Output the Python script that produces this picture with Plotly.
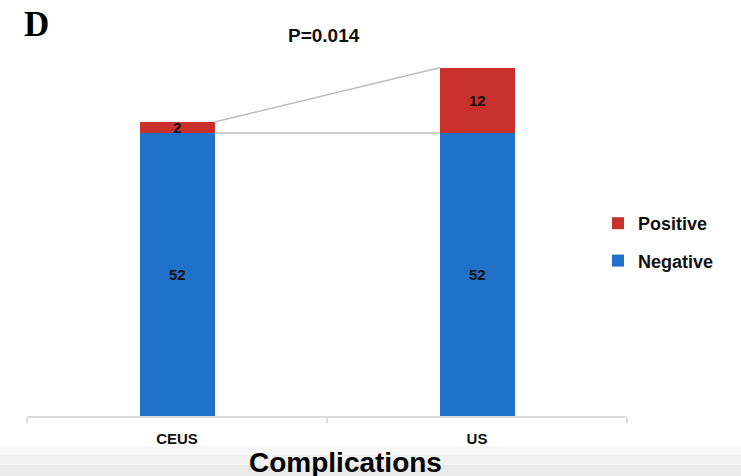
import plotly.graph_objects as go

categories = ["CEUS", "US"]
negative = [52, 52]
positive = [2, 12]
p_text = "P=0.014"
panel_label = "D"
x_title = "Complications"

W, H = 741, 476
L, R, T, B = 27, 114, 35, 60
YMAX = 70
pw, ph = W - L - R, H - T - B


def px_x(x):
    return (x - L) / pw


def px_y(y):
    return (H - B - y) / ph


xs = list(range(len(categories)))
BW = 0.25
BLUE = "#2072C8"
RED = "#C9302C"

fig = go.Figure()
fig.add_trace(go.Bar(x=xs, y=negative, name="<b>Negative</b>", marker=dict(color=BLUE, line=dict(width=0)),
                     width=BW, legendrank=2, legendgroup="n", hoverinfo="skip"))
fig.add_trace(go.Bar(x=xs, y=positive, name="<b>Positive</b>", marker=dict(color=RED, line=dict(width=0)),
                     width=BW, legendrank=1, legendgroup="p", hoverinfo="skip"))

# connector lines between bars
tops = [n + p for n, p in zip(negative, positive)]
fig.add_trace(go.Scatter(x=[xs[0] + BW / 2, xs[1] - BW / 2], y=tops, mode="lines",
                         line=dict(color="#bdbdbd", width=1.5), showlegend=False, hoverinfo="skip"))
fig.add_trace(go.Scatter(x=[xs[0] + BW / 2, xs[1] - BW / 2], y=negative[:2], mode="lines",
                         line=dict(color="#bdbdbd", width=1.5), showlegend=False, hoverinfo="skip"))

annotations = []
lab_font = dict(family="Liberation Sans, Arial", size=15, color="#111111")
for i, (n, p) in enumerate(zip(negative, positive)):
    annotations.append(dict(x=xs[i], y=n / 2, text=f"<b>{n}</b>", showarrow=False, font=lab_font))
    annotations.append(dict(x=xs[i], y=n + p / 2, text=f"<b>{p}</b>", showarrow=False, font=lab_font))

annotations.append(dict(xref="paper", yref="paper", x=px_x(22), y=px_y(25), xanchor="left", yanchor="middle",
                        text=f"<b>{panel_label}</b>", showarrow=False,
                        font=dict(family="Liberation Serif, Times New Roman", size=35, color="#000000")))
annotations.append(dict(xref="paper", yref="paper", x=px_x(324), y=px_y(36), xanchor="center", yanchor="middle",
                        text=f"<b>{p_text}</b>", showarrow=False,
                        font=dict(family="Liberation Sans, Arial", size=19, color="#111111")))
annotations.append(dict(xref="paper", yref="paper", x=px_x(345), y=px_y(445), xanchor="center", yanchor="top",
                        text=f"<b>{x_title}</b>", showarrow=False,
                        font=dict(family="Liberation Sans, Arial", size=28, color="#000000")))

shapes = [
    dict(type="rect", xref="paper", yref="paper", x0=px_x(0), x1=px_x(W), y0=px_y(H), y1=px_y(446),
         fillcolor="#f7f7f7", line=dict(width=0), layer="below"),
    dict(type="rect", xref="paper", yref="paper", x0=px_x(0), x1=px_x(W), y0=px_y(H), y1=px_y(455),
         fillcolor="#f1f1f1", line=dict(width=0), layer="below"),
    dict(type="rect", xref="paper", yref="paper", x0=px_x(0), x1=px_x(W), y0=px_y(H), y1=px_y(465),
         fillcolor="#eaeaea", line=dict(width=0), layer="below"),
]

fig.update_layout(
    width=W, height=H,
    margin=dict(l=L, r=R, t=T, b=B, pad=0),
    barmode="stack",
    plot_bgcolor="white", paper_bgcolor="white",
    showlegend=True,
    legend=dict(x=px_x(598), y=px_y(205), xanchor="left", yanchor="top",
                font=dict(family="Liberation Sans, Arial", size=18, color="#111111"),
                tracegroupgap=11, bgcolor="rgba(0,0,0,0)"),
    xaxis=dict(range=[-0.5, 1.5], tickvals=xs, ticktext=[f"<b>{c}</b>" for c in categories],
               showgrid=False, zeroline=False, showline=True, linecolor="#dcdcdc", linewidth=1.5,
               ticks="", tickfont=dict(family="Liberation Sans, Arial", size=15, color="#111111"),
               minor=dict(tickvals=[-0.5, 0.5, 1.5], ticks="outside", ticklen=5, tickcolor="#dcdcdc",
                          tickwidth=1.5, showgrid=False),
               ticklabelstandoff=8),
    yaxis=dict(range=[0, YMAX], visible=False, showgrid=False),
    annotations=annotations,
    shapes=shapes,
)

fig.write_html("out.html", config={"displayModeBar": False})

# remove the default page margin so the figure sits at the window's top-left corner
with open("out.html", "r", encoding="utf-8") as f:
    html = f.read()
html = html.replace("<head>", "<head><style>html,body{margin:0;padding:0;overflow:hidden;}</style>", 1)
with open("out.html", "w", encoding="utf-8") as f:
    f.write(html)
